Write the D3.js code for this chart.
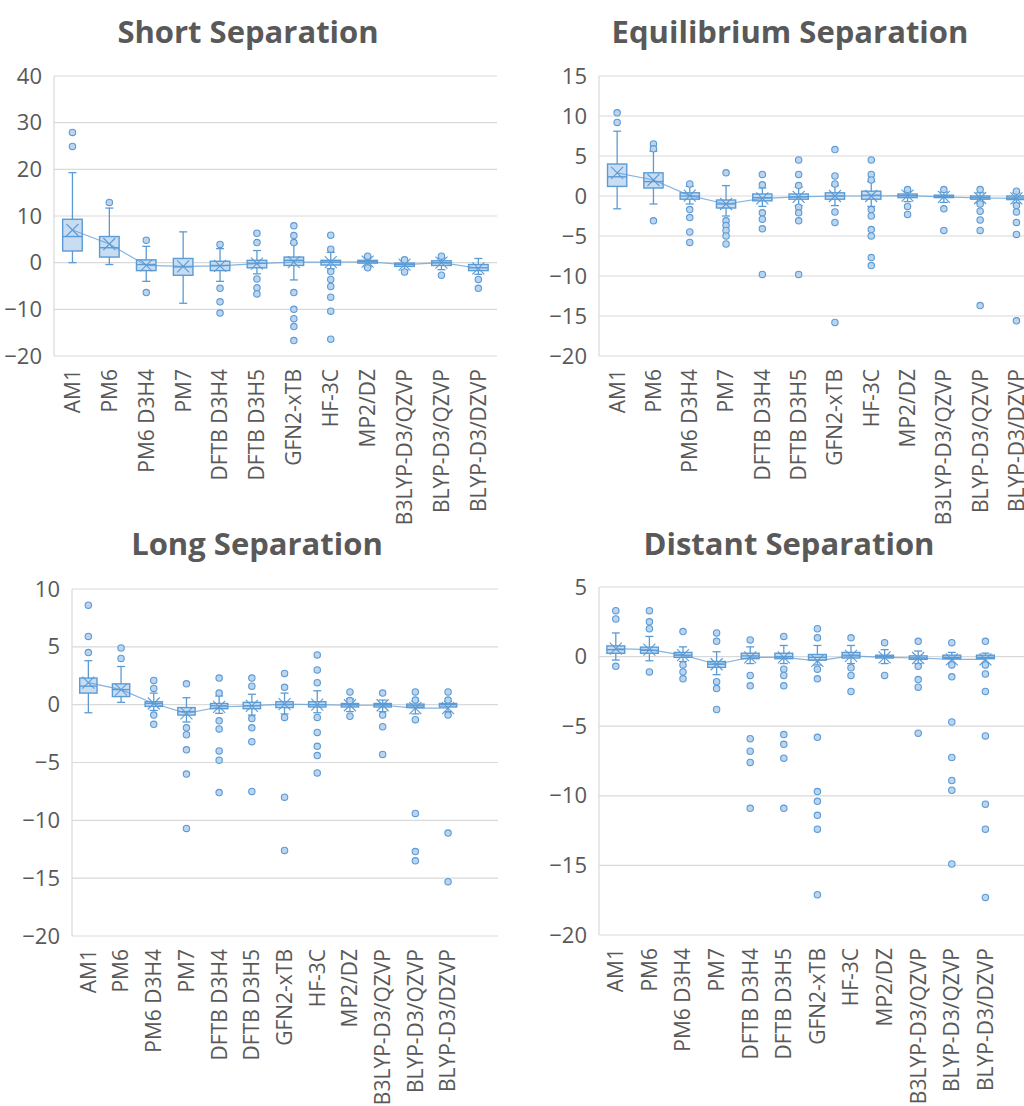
<!DOCTYPE html>
<html>
<head>
<meta charset="utf-8">
<script src="https://cdn.jsdelivr.net/npm/d3@7"></script>
<style>
body { margin: 0; background: #fff; }
text { font-family: "Open Sans", sans-serif; fill: #595959; }
</style>
</head>
<body>
<script>
var methods = ["AM1", "PM6", "PM6 D3H4", "PM7", "DFTB D3H4", "DFTB D3H5", "GFN2-xTB",
               "HF-3C", "MP2/DZ", "B3LYP-D3/QZVP", "BLYP-D3/QZVP", "BLYP-D3/DZVP"];

// each row: [lower whisker, q1, median, q3, upper whisker, mean]
var shortBox = [
    [0, 2.5, 5.6, 9.3, 19.3, 7.0], [-0.4, 1.2, 3.2, 5.6, 11.7, 4.0],
    [-4.0, -1.7, -0.4, 0.6, 3.5, -0.6], [-8.7, -2.7, -0.9, 0.9, 6.6, -0.8],
    [-4.0, -1.7, -0.6, 0.3, 3.0, -0.7], [-2.4, -1.1, -0.1, 0.5, 2.6, -0.2],
    [-3.7, -0.6, 0.5, 1.2, 4.1, 0.1], [-1.3, -0.5, 0.1, 0.5, 2.2, 0.1],
    [-0.9, -0.1, 0.2, 0.5, 1.2, 0.2], [-1.6, -0.8, -0.4, -0.1, 0.4, -0.4],
    [-1.5, -0.6, 0.0, 0.4, 1.0, 0.0], [-2.5, -1.7, -1.1, -0.4, 0.9, -1.2]
];
var shortOut = [
    [27.9, 24.9], [12.9], [4.8, -6.4], [], [3.9, -5.5, -8.4, -10.8],
    [6.3, 4.3, -3.5, -5.4, -6.7], [7.9, 5.8, 4.3, -6.4, -10.0, -12.0, -13.7, -16.7],
    [5.9, 2.9, -1.9, -3.6, -5.1, -7.4, -10.4, -16.4], [1.4, -1.1], [0.6, -2.0],
    [1.4, -2.7], [-3.6, -5.5]
];

var equilBox = [
    [-1.6, 1.2, 2.4, 4.0, 8.1, 2.9], [-1.0, 1.0, 1.8, 2.9, 5.6, 2.0],
    [-1.0, -0.4, 0.0, 0.4, 1.2, 0.05], [-2.5, -1.5, -1.0, -0.5, 1.3, -1.0],
    [-1.3, -0.6, -0.2, 0.25, 1.0, -0.3], [-1.2, -0.4, -0.1, 0.25, 1.1, -0.1],
    [-1.2, -0.4, 0.0, 0.4, 1.3, 0.0], [-1.3, -0.4, 0.1, 0.6, 1.8, 0.0],
    [-0.7, -0.2, 0.05, 0.25, 0.6, 0.05], [-0.8, -0.2, -0.05, 0.1, 0.5, -0.1],
    [-0.9, -0.4, -0.2, 0.0, 0.4, -0.25], [-0.9, -0.45, -0.25, 0.0, 0.4, -0.3]
];
var equilOut = [
    [10.4, 9.2], [6.5, 5.9, -3.1], [1.5, -1.7, -2.7, -4.5, -5.8],
    [2.9, -3.1, -3.7, -4.3, -5.0, -6.0], [2.7, 1.4, -2.1, -2.9, -4.1, -9.8],
    [4.5, 2.7, 1.3, -1.4, -2.1, -3.1, -9.8], [5.8, 2.5, 1.5, -2.0, -3.3, -15.8],
    [4.5, 2.7, 2.0, -1.7, -2.5, -4.2, -5.0, -7.7, -8.7], [0.8, -1.3, -2.3],
    [0.8, -1.6, -4.3], [0.8, -1.0, -1.9, -3.0, -4.3, -13.7],
    [0.6, -1.2, -2.0, -3.3, -4.8, -15.6]
];

var longBox = [
    [-0.7, 1.0, 1.6, 2.3, 3.8, 1.9], [0.2, 0.7, 1.3, 1.8, 3.3, 1.3],
    [-0.5, -0.15, 0.1, 0.25, 1.0, 0.1], [-1.5, -0.9, -0.6, -0.25, 0.6, -0.75],
    [-0.75, -0.35, -0.1, 0.1, 0.75, -0.2], [-0.9, -0.35, -0.1, 0.2, 0.9, -0.1],
    [-0.8, -0.25, 0.0, 0.25, 1.0, 0.05], [-0.7, -0.2, 0.0, 0.25, 1.2, 0.0],
    [-0.6, -0.2, 0.0, 0.1, 0.5, -0.05], [-0.6, -0.2, 0.0, 0.1, 0.4, -0.05],
    [-0.8, -0.25, -0.1, 0.05, 0.3, -0.3], [-0.6, -0.2, 0.0, 0.1, 0.3, -0.3]
];
var longOut = [
    [8.6, 5.9, 4.5], [4.9, 4.0], [2.1, 1.4, -0.9, -1.7],
    [1.8, -2.0, -2.6, -3.9, -6.0, -10.7], [2.3, 1.0, -1.4, -2.1, -4.0, -4.8, -7.6],
    [2.3, 1.6, -1.2, -2.0, -3.2, -7.5], [2.7, 1.5, -1.1, -8.0, -12.6],
    [4.3, 3.0, 1.9, -1.1, -2.4, -3.6, -4.4, -5.9], [1.1, 0.35, -1.0],
    [1.0, -0.9, -1.9, -4.3], [1.1, 0.4, -1.3, -9.4, -12.7, -13.5],
    [1.1, 0.4, -0.9, -11.1, -15.3]
];

var distantBox = [
    [-0.25, 0.24, 0.5, 0.77, 1.7, 0.58], [-0.3, 0.24, 0.45, 0.68, 1.45, 0.5],
    [-0.35, -0.05, 0.1, 0.3, 0.7, 0.1], [-1.3, -0.77, -0.55, -0.35, 0.35, -0.55],
    [-0.5, -0.15, 0.05, 0.24, 0.7, -0.05], [-0.5, -0.15, 0.0, 0.24, 0.8, -0.05],
    [-0.6, -0.25, -0.05, 0.15, 0.8, -0.3], [-0.5, -0.1, 0.1, 0.3, 0.8, 0.05],
    [-0.5, -0.1, 0.0, 0.1, 0.5, -0.05], [-0.5, -0.2, -0.1, 0.05, 0.4, -0.1],
    [-0.5, -0.15, -0.05, 0.1, 0.3, -0.2], [-0.5, -0.15, -0.05, 0.1, 0.25, -0.2]
];
var distantOut = [
    [3.3, 2.7, -0.7], [3.3, 2.5, 2.0, -1.1], [1.8, -0.6, -1.1, -1.6],
    [1.7, 1.1, -1.8, -2.3, -3.8], [1.2, -1.35, -2.1, -5.9, -6.8, -7.6, -10.9],
    [1.45, -0.9, -1.35, -2.1, -5.6, -6.3, -7.3, -10.9],
    [2.0, 1.35, -0.9, -1.6, -5.8, -9.7, -10.4, -11.4, -12.4, -17.1],
    [1.35, -0.8, -1.35, -2.5], [1.0, -1.35], [1.1, -0.7, -1.65, -2.2, -5.5],
    [1.0, -0.6, -1.45, -4.7, -7.25, -8.9, -9.6, -14.9],
    [1.1, -0.6, -1.25, -2.5, -5.7, -10.6, -12.4, -17.3]
];

var titles = ["Short Separation", "Equilibrium Separation", "Long Separation", "Distant Separation"];
var shortTicks = [-20, -10, 0, 10, 20, 30, 40];
var equilTicks = [-20, -15, -10, -5, 0, 5, 10, 15];
var longTicks = [-20, -15, -10, -5, 0, 5, 10];
var distantTicks = [-20, -15, -10, -5, 0, 5];

var blue = "#5b9bd5";

var svg = d3.select("body").append("svg")
    .attr("width", 1024)
    .attr("height", 1106);

// layout of the four panels (pixels)
var panels = [
    {title: titles[0], box: shortBox, out: shortOut, ticks: shortTicks,
     left: 54, top: 76, bottom: 356, step: 36.9, gridRight: 497, tx: 248, ty: 43},
    {title: titles[1], box: equilBox, out: equilOut, ticks: equilTicks,
     left: 599, top: 76, bottom: 356, step: 36.3, gridRight: 1040, tx: 790, ty: 43},
    {title: titles[2], box: longBox, out: longOut, ticks: longTicks,
     left: 72, top: 589, bottom: 936, step: 32.7, gridRight: 498, tx: 257, ty: 555},
    {title: titles[3], box: distantBox, out: distantOut, ticks: distantTicks,
     left: 599, top: 587, bottom: 935, step: 33.6, gridRight: 1040, tx: 789, ty: 555}
];

panels.forEach(function(p) {
    var g = svg.append("g");

    var y = d3.scaleLinear()
        .domain(d3.extent(p.ticks))
        .range([p.bottom, p.top]);

    var x = d3.scaleBand()
        .domain(methods)
        .range([p.left, p.left + p.step * methods.length]);

    var cx = function(i) { return x(methods[i]) + x.bandwidth() / 2; };
    var bw = x.bandwidth() * 0.53;

    // title
    g.append("text")
        .attr("x", p.tx)
        .attr("y", p.ty)
        .attr("text-anchor", "middle")
        .style("font-size", "31px")
        .style("font-weight", "bold")
        .text(p.title);

    // gridlines
    g.selectAll(".grid")
        .data(p.ticks)
        .enter().append("line")
        .attr("x1", p.left).attr("x2", p.gridRight)
        .attr("y1", function(d) { return y(d); })
        .attr("y2", function(d) { return y(d); })
        .attr("stroke", "#d9d9d9")
        .attr("stroke-width", 1.2);

    g.append("line")
        .attr("x1", p.left).attr("x2", p.left)
        .attr("y1", p.top).attr("y2", p.bottom)
        .attr("stroke", "#d9d9d9")
        .attr("stroke-width", 1.2);

    // y axis labels
    var yAxis = g.append("g")
        .attr("transform", "translate(" + p.left + ",0)")
        .call(d3.axisLeft(y).tickValues(p.ticks).tickSize(0).tickPadding(12));
    yAxis.select(".domain").remove();
    yAxis.selectAll("text")
        .style("font-size", "22px")
        .style("font-family", "\"Open Sans\", sans-serif")
        .attr("fill", "#595959");

    // x axis labels
    var xAxis = g.append("g")
        .attr("transform", "translate(0," + p.bottom + ")")
        .call(d3.axisBottom(x).tickSize(0).tickPadding(0));
    xAxis.select(".domain").remove();
    xAxis.selectAll("text")
        .attr("transform", "rotate(-90)")
        .attr("x", -13)
        .attr("y", 0)
        .attr("dy", "0.35em")
        .attr("text-anchor", "end")
        .style("font-size", "21px")
        .style("font-family", "\"Open Sans\", sans-serif")
        .attr("fill", "#595959");

    var items = p.box.map(function(b, i) {
        return {i: i, lo: b[0], q1: b[1], med: b[2], q3: b[3], hi: b[4], mean: b[5]};
    });

    // whiskers
    var wh = g.selectAll(".whisker").data(items).enter().append("g");
    wh.append("line")
        .attr("x1", function(d) { return cx(d.i); })
        .attr("x2", function(d) { return cx(d.i); })
        .attr("y1", function(d) { return y(d.hi); })
        .attr("y2", function(d) { return y(d.lo); })
        .attr("stroke", blue).attr("stroke-width", 1.3);
    wh.append("line")
        .attr("x1", function(d) { return cx(d.i) - 4; })
        .attr("x2", function(d) { return cx(d.i) + 4; })
        .attr("y1", function(d) { return y(d.hi); })
        .attr("y2", function(d) { return y(d.hi); })
        .attr("stroke", blue).attr("stroke-width", 1.3);
    wh.append("line")
        .attr("x1", function(d) { return cx(d.i) - 4; })
        .attr("x2", function(d) { return cx(d.i) + 4; })
        .attr("y1", function(d) { return y(d.lo); })
        .attr("y2", function(d) { return y(d.lo); })
        .attr("stroke", blue).attr("stroke-width", 1.3);

    // boxes
    g.selectAll(".box").data(items).enter().append("rect")
        .attr("x", function(d) { return cx(d.i) - bw / 2; })
        .attr("y", function(d) { return y(d.q3); })
        .attr("width", bw)
        .attr("height", function(d) { return Math.max(2, y(d.q1) - y(d.q3)); })
        .attr("fill", "#c9ddf2")
        .attr("stroke", blue)
        .attr("stroke-width", 1.4);

    g.selectAll(".median").data(items).enter().append("line")
        .attr("x1", function(d) { return cx(d.i) - bw / 2; })
        .attr("x2", function(d) { return cx(d.i) + bw / 2; })
        .attr("y1", function(d) { return y(d.med); })
        .attr("y2", function(d) { return y(d.med); })
        .attr("stroke", blue).attr("stroke-width", 1.4);

    // mean line
    var line = d3.line()
        .x(function(d) { return cx(d.i); })
        .y(function(d) { return y(d.mean); });
    g.append("path")
        .datum(items)
        .attr("d", line)
        .attr("fill", "none")
        .attr("stroke", blue)
        .attr("stroke-opacity", 0.75)
        .attr("stroke-width", 1.2);

    // mean markers (X)
    var mk = g.selectAll(".mean").data(items).enter().append("g")
        .attr("transform", function(d) { return "translate(" + cx(d.i) + "," + y(d.mean) + ")"; });
    mk.append("line").attr("x1", -6).attr("y1", -6).attr("x2", 6).attr("y2", 6)
        .attr("stroke", blue).attr("stroke-width", 1.1);
    mk.append("line").attr("x1", -6).attr("y1", 6).attr("x2", 6).attr("y2", -6)
        .attr("stroke", blue).attr("stroke-width", 1.1);

    // outliers
    var pts = [];
    p.out.forEach(function(arr, i) {
        arr.forEach(function(v) { pts.push({i: i, v: v}); });
    });
    g.selectAll(".outlier").data(pts).enter().append("circle")
        .attr("cx", function(d) { return cx(d.i); })
        .attr("cy", function(d) { return y(d.v); })
        .attr("r", 3.2)
        .attr("fill", "#bcd4ee")
        .attr("stroke", blue)
        .attr("stroke-width", 1.1);
});
</script>
</body>
</html>
